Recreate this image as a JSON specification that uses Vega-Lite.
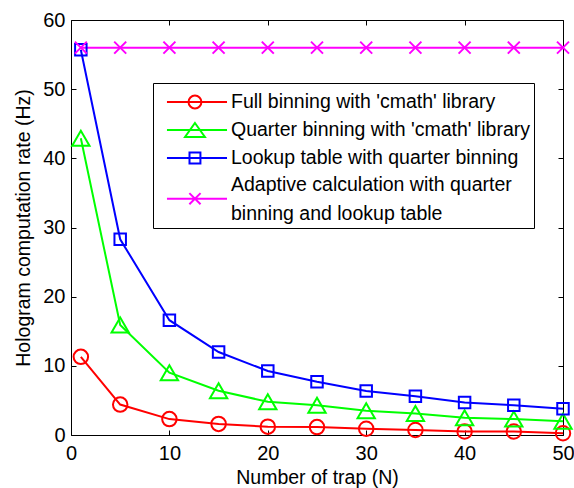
{
  "$schema": "https://vega.github.io/schema/vega-lite/v6.json",
  "width": 492,
  "height": 415,
  "autosize": "none",
  "padding": {"left": 71, "top": 20, "right": 11, "bottom": 53},
  "background": "white",
  "config": {
    "font": "Liberation Sans",
    "view": {"stroke": "#000", "strokeWidth": 1},
    "axis": {"grid": false, "domain": false, "tickColor": "#000", "tickWidth": 1, "labelColor": "#000", "labelFont": "Liberation Sans", "labelFontSize": 20, "labelFlush": false, "titleFont": "Liberation Sans", "titleFontSize": 19.5, "titleFontWeight": "normal", "titleColor": "#000"}
  },
  "data": {"values": [
    {"N": 1, "rate": 11.3, "series": "Full binning with 'cmath' library"},
    {"N": 5, "rate": 4.4, "series": "Full binning with 'cmath' library"},
    {"N": 10, "rate": 2.3, "series": "Full binning with 'cmath' library"},
    {"N": 15, "rate": 1.6, "series": "Full binning with 'cmath' library"},
    {"N": 20, "rate": 1.2, "series": "Full binning with 'cmath' library"},
    {"N": 25, "rate": 1.15, "series": "Full binning with 'cmath' library"},
    {"N": 30, "rate": 0.9, "series": "Full binning with 'cmath' library"},
    {"N": 35, "rate": 0.72, "series": "Full binning with 'cmath' library"},
    {"N": 40, "rate": 0.5, "series": "Full binning with 'cmath' library"},
    {"N": 45, "rate": 0.5, "series": "Full binning with 'cmath' library"},
    {"N": 50, "rate": 0.25, "series": "Full binning with 'cmath' library"},
    {"N": 1, "rate": 42.9, "series": "Quarter binning with 'cmath' library"},
    {"N": 5, "rate": 15.9, "series": "Quarter binning with 'cmath' library"},
    {"N": 10, "rate": 9.0, "series": "Quarter binning with 'cmath' library"},
    {"N": 15, "rate": 6.4, "series": "Quarter binning with 'cmath' library"},
    {"N": 20, "rate": 4.8, "series": "Quarter binning with 'cmath' library"},
    {"N": 25, "rate": 4.3, "series": "Quarter binning with 'cmath' library"},
    {"N": 30, "rate": 3.5, "series": "Quarter binning with 'cmath' library"},
    {"N": 35, "rate": 3.1, "series": "Quarter binning with 'cmath' library"},
    {"N": 40, "rate": 2.5, "series": "Quarter binning with 'cmath' library"},
    {"N": 45, "rate": 2.3, "series": "Quarter binning with 'cmath' library"},
    {"N": 50, "rate": 2.0, "series": "Quarter binning with 'cmath' library"},
    {"N": 1, "rate": 55.7, "series": "Lookup table with quarter binning"},
    {"N": 5, "rate": 28.3, "series": "Lookup table with quarter binning"},
    {"N": 10, "rate": 16.6, "series": "Lookup table with quarter binning"},
    {"N": 15, "rate": 12.0, "series": "Lookup table with quarter binning"},
    {"N": 20, "rate": 9.25, "series": "Lookup table with quarter binning"},
    {"N": 25, "rate": 7.7, "series": "Lookup table with quarter binning"},
    {"N": 30, "rate": 6.36, "series": "Lookup table with quarter binning"},
    {"N": 35, "rate": 5.6, "series": "Lookup table with quarter binning"},
    {"N": 40, "rate": 4.7, "series": "Lookup table with quarter binning"},
    {"N": 45, "rate": 4.3, "series": "Lookup table with quarter binning"},
    {"N": 50, "rate": 3.8, "series": "Lookup table with quarter binning"},
    {"N": 1, "rate": 56, "series": "Adaptive calculation with quarter binning and lookup table"},
    {"N": 5, "rate": 56, "series": "Adaptive calculation with quarter binning and lookup table"},
    {"N": 10, "rate": 56, "series": "Adaptive calculation with quarter binning and lookup table"},
    {"N": 15, "rate": 56, "series": "Adaptive calculation with quarter binning and lookup table"},
    {"N": 20, "rate": 56, "series": "Adaptive calculation with quarter binning and lookup table"},
    {"N": 25, "rate": 56, "series": "Adaptive calculation with quarter binning and lookup table"},
    {"N": 30, "rate": 56, "series": "Adaptive calculation with quarter binning and lookup table"},
    {"N": 35, "rate": 56, "series": "Adaptive calculation with quarter binning and lookup table"},
    {"N": 40, "rate": 56, "series": "Adaptive calculation with quarter binning and lookup table"},
    {"N": 45, "rate": 56, "series": "Adaptive calculation with quarter binning and lookup table"},
    {"N": 50, "rate": 56, "series": "Adaptive calculation with quarter binning and lookup table"}
  ]},
  "layer": [
    {
      "mark": {"type": "line", "strokeWidth": 2},
      "encoding": {
        "x": {"field": "N", "type": "quantitative", "scale": {"domain": [0, 50], "nice": false, "zero": false},
              "axis": {"orient": "bottom", "values": [0, 10, 20, 30, 40, 50], "tickSize": -5, "labelPadding": 13, "title": "Number of trap (N)", "titlePadding": 5}},
        "y": {"field": "rate", "type": "quantitative", "scale": {"domain": [0, 60], "nice": false},
              "axis": {"orient": "left", "values": [0, 10, 20, 30, 40, 50, 60], "tickSize": -5, "labelPadding": 11, "title": "Hologram computation rate (Hz)", "titlePadding": 9}},
        "color": {"field": "series", "type": "nominal",
          "scale": {"domain": ["Full binning with 'cmath' library", "Quarter binning with 'cmath' library", "Lookup table with quarter binning", "Adaptive calculation with quarter binning and lookup table"],
                    "range": ["#ff0000", "#00ff00", "#0000ff", "#ff00ff"]},
          "legend": {
            "title": null, "orient": "none", "legendX": 82, "legendY": 63,
            "fillColor": "white", "strokeColor": "#000", "padding": 4, "cornerRadius": 0,
            "symbolSize": 784, "symbolStrokeWidth": 2, "labelOffset": 44, "labelLimit": 400,
            "labelFont": "Liberation Sans", "labelFontSize": 19.5, "labelColor": "#000", "rowPadding": 2,
            "labelExpr": "indexof(datum.label, 'Adaptive') === 0 ? ['Adaptive calculation with quarter', 'binning and lookup table'] : datum.label + '  '",
            "encode": {
              "labels": {"update": {"lineHeight": {"value": 29}}},
              "symbols": {"update": {
              "fill": {"value": "transparent"},
              "strokeWidth": {"value": 2},
              "size": {"value": 784},
              "shape": {"signal": "indexof(datum.value, 'Full') === 0 ? 'M-0.36,0H3.93M2.1,0A0.46,0.46 0 1,1 1.18,0A0.46,0.46 0 1,1 2.1,0' : indexof(datum.value, 'Quarter') === 0 ? 'M-0.36,0H3.93M1.64,-0.5L2.35,0.5L0.93,0.5Z' : indexof(datum.value, 'Lookup') === 0 ? 'M-0.36,0H3.93M1.25,-0.39H2.03V0.39H1.25Z' : 'M-0.36,0.98H3.93M1.24,0.58L2.04,1.38M1.24,1.38L2.04,0.58'"}
            }}}
          }
        }
      }
    },
    {
      "transform": [{"filter": {"field": "series", "equal": "Full binning with 'cmath' library"}}],
      "mark": {"type": "point", "shape": "circle", "filled": false, "strokeWidth": 2, "size": 210, "color": "#ff0000", "opacity": 1},
      "encoding": {
        "x": {"field": "N", "type": "quantitative", "axis": {"orient": "top", "values": [0, 10, 20, 30, 40, 50], "tickSize": -5, "labels": false, "title": null}},
        "y": {"field": "rate", "type": "quantitative", "axis": {"orient": "right", "values": [0, 10, 20, 30, 40, 50, 60], "tickSize": -5, "labels": false, "title": null}}
      }
    },
    {
      "transform": [{"filter": {"field": "series", "equal": "Quarter binning with 'cmath' library"}}],
      "mark": {"type": "point", "shape": "triangle-up", "filled": false, "strokeWidth": 2, "size": 300, "color": "#00ff00", "opacity": 1},
      "encoding": {
        "x": {"field": "N", "type": "quantitative", "axis": null},
        "y": {"field": "rate", "type": "quantitative", "axis": null}
      }
    },
    {
      "transform": [{"filter": {"field": "series", "equal": "Lookup table with quarter binning"}}],
      "mark": {"type": "point", "shape": "square", "filled": false, "strokeWidth": 2, "size": 132, "color": "#0000ff", "opacity": 1},
      "encoding": {
        "x": {"field": "N", "type": "quantitative", "axis": null},
        "y": {"field": "rate", "type": "quantitative", "axis": null}
      }
    },
    {
      "transform": [{"filter": {"field": "series", "equal": "Adaptive calculation with quarter binning and lookup table"}}],
      "mark": {"type": "point", "shape": "M-1,-1L1,1M-1,1L1,-1", "filled": false, "strokeWidth": 2, "size": 144, "color": "#ff00ff", "opacity": 1},
      "encoding": {
        "x": {"field": "N", "type": "quantitative", "axis": null},
        "y": {"field": "rate", "type": "quantitative", "axis": null}
      }
    }
  ],
  "resolve": {"axis": {"x": "independent", "y": "independent"}}
}
